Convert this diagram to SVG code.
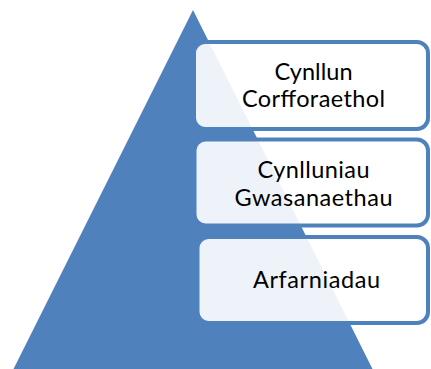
<svg xmlns="http://www.w3.org/2000/svg" width="431" height="369" viewBox="0 0 431 369">
<style>
.box{fill:#ffffff;fill-opacity:0.9;stroke:#4F81BD;stroke-width:4}
.lbl{font-family:Lato,"Liberation Sans",sans-serif;font-size:23.5px;fill:#000000;text-anchor:middle}
</style>
<rect width="431" height="369" fill="#ffffff"/>
<g id="pyramid">
<polygon points="193,10 13.5,369 372.5,369" fill="#4F81BD"/>
</g>
<g id="node-corfforaethol">
<rect class="box" x="194" y="42" width="234" height="87" rx="11"/>
<text class="lbl" x="313.5" y="80" textLength="78" lengthAdjust="spacing">Cynllun</text>
<text class="lbl" x="313.5" y="107.3" textLength="143" lengthAdjust="spacing">Corfforaethol</text>
</g>
<g id="node-gwasanaethau">
<rect class="box" x="194.5" y="139.5" width="233.5" height="86" rx="11"/>
<text class="lbl" x="313.5" y="177.7" textLength="112" lengthAdjust="spacing">Cynlluniau</text>
<text class="lbl" x="313.5" y="206" textLength="158" lengthAdjust="spacing">Gwasanaethau</text>
</g>
<g id="node-arfarniadau">
<rect class="box" x="197.5" y="237" width="230.5" height="86" rx="11"/>
<text class="lbl" x="316.5" y="288.3" textLength="127" lengthAdjust="spacing">Arfarniadau</text>
</g>
</svg>
